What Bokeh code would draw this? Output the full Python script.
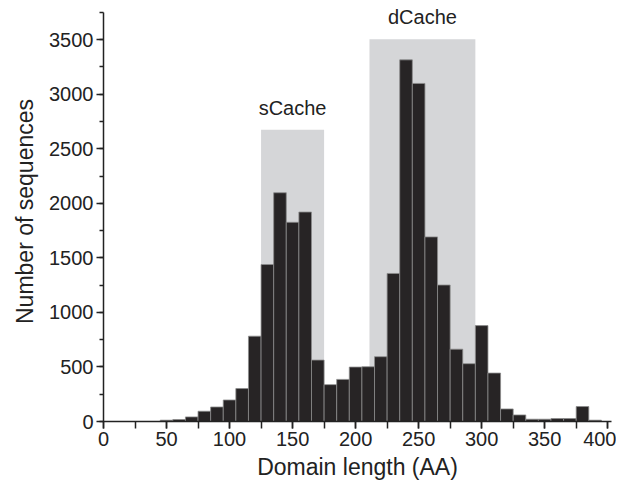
from bokeh.plotting import figure
from bokeh.models import Range1d, FixedTicker, Label
from bokeh.embed import file_html
from bokeh.resources import INLINE

# Histogram data (bin centers in AA, bin width 10)
bin_centers = [50, 60, 70, 80, 90, 100, 110, 120, 130, 140, 150, 160, 170, 180, 190,
               200, 210, 220, 230, 240, 250, 260, 270, 280, 290, 300, 310, 320, 330,
               340, 350, 360, 370, 380, 390]
counts = [12, 18, 42, 94, 133, 197, 302, 782, 1439, 2097, 1826, 1920, 563, 338, 386,
          499, 502, 594, 1357, 3315, 3099, 1692, 1251, 663, 530, 879, 444, 115, 60,
          21, 21, 27, 27, 137, 12]
bin_width = 10

# Highlighted regions
region_names = ["sCache", "dCache"]
region_left = [125, 211]
region_right = [175, 295]
region_top = [2675, 3505]

FONT = "Liberation Sans"

p = figure(width=616, height=482, output_backend="svg", toolbar_location=None,
           x_range=Range1d(0, 403), y_range=Range1d(0, 3850),
           min_border_left=103, min_border_right=5, min_border_top=1, min_border_bottom=59)
p.outline_line_color = None
p.grid.visible = False
p.background_fill_color = "white"

# shaded regions
p.quad(left=region_left, right=region_right, bottom=[0, 0], top=region_top,
       fill_color="#d5d6d8", line_color=None)

left = [c - bin_width / 2 for c in bin_centers]
right = [c + bin_width / 2 for c in bin_centers]
p.quad(left=left, right=right, bottom=0, top=counts,
       fill_color="#272425", line_color="#8c8c8c", line_width=0.8)

for name, l, r, t in zip(region_names, region_left, region_right, region_top):
    p.add_layout(Label(x=(l + r) / 2, y=t, text=name, text_align="center",
                       text_baseline="alphabetic", y_offset=22, text_font=FONT,
                       text_font_size="20px", text_color="#222222"))

# axes styling
p.xaxis.ticker = FixedTicker(ticks=[0, 50, 100, 150, 200, 250, 300, 350, 400],
                             minor_ticks=list(range(0, 401, 25)))
p.yaxis.ticker = FixedTicker(ticks=list(range(0, 3501, 500)),
                             minor_ticks=list(range(0, 3751, 250)))
p.yaxis.bounds = (0, 3750)
p.xaxis.bounds = (0, 403)
for ax in (p.xaxis[0], p.yaxis[0]):
    ax.axis_line_color = "#222222"
    ax.axis_line_width = 1.5
    ax.major_tick_line_color = "#222222"
    ax.minor_tick_line_color = "#222222"
    ax.major_tick_line_width = 1.5
    ax.minor_tick_line_width = 1.5
    ax.major_label_text_font = FONT
    ax.major_label_text_font_size = "20px"
    ax.major_label_text_color = "#222222"
    ax.axis_label_text_font = FONT
    ax.axis_label_text_font_size = "23px"
    ax.axis_label_text_font_style = "normal"
    ax.axis_label_text_color = "#222222"

p.xaxis.major_tick_in = 0
p.xaxis.major_tick_out = 7
p.xaxis.minor_tick_in = 0
p.xaxis.minor_tick_out = 7
p.xaxis.major_label_standoff = 3
p.xaxis.axis_label = "Domain length (AA)"
p.xaxis.axis_label_standoff = 5

p.yaxis.major_tick_in = 0
p.yaxis.major_tick_out = 7
p.yaxis.minor_tick_in = 0
p.yaxis.minor_tick_out = 4
p.yaxis.major_label_standoff = 3
p.yaxis.axis_label = "Number of sequences"
p.yaxis.axis_label_standoff = 8

open("out.html", "w").write(file_html(p, INLINE))
